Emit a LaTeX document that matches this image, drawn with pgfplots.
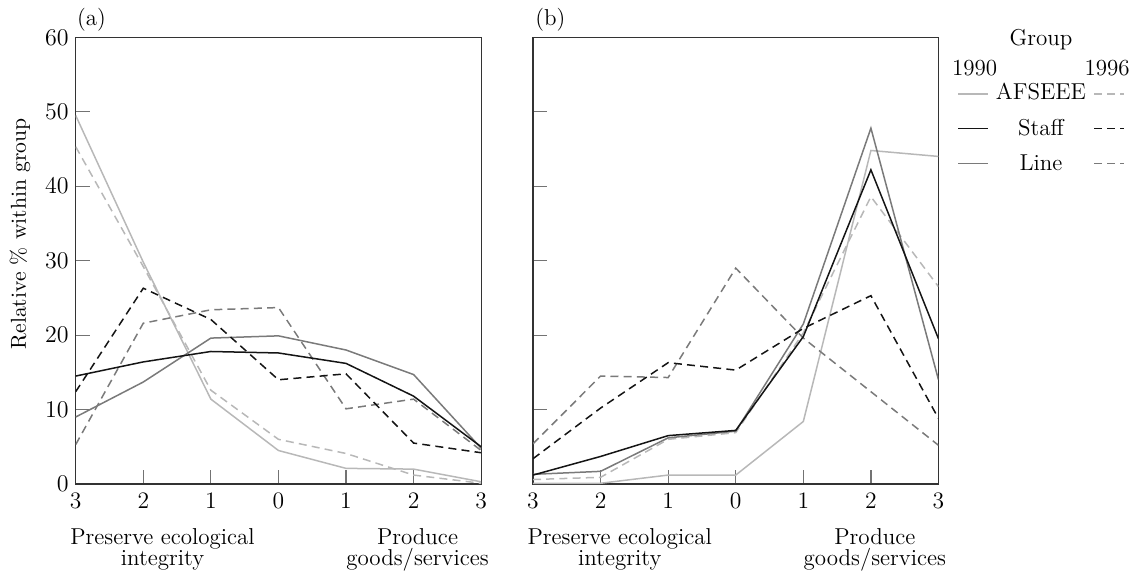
\documentclass[border=0pt]{standalone}
\usepackage{pgfplots}
\pgfplotsset{compat=1.18}
\definecolor{cA}{gray}{0.72}
\definecolor{cL}{gray}{0.48}
\definecolor{cS}{gray}{0.08}
\tikzset{
  sA/.style={cA, line width=0.75pt},
  sS/.style={cS, line width=0.75pt},
  sL/.style={cL, line width=0.75pt},
  dsh/.style={dash pattern=on 4pt off 2.6pt},
}
\pgfplotsset{
  panel/.style={scale only axis, width=202.75pt, height=223.35pt,
    xmin=0, xmax=6, ymin=0, ymax=60,
    xtick={0,...,6}, xticklabels={3,2,1,0,1,2,3},
    ytick={0,10,...,60},
    tick align=inside, xtick pos=lower, ytick pos=left,
    major tick length=7pt,
    tick style={black!55, line width=0.6pt},
    axis line style={black!80, line width=0.6pt},
    tick label style={font=\fontsize{11.8}{13}\selectfont},
    xticklabel style={yshift=-1pt},
    anchor=south west},
}
\begin{document}
\begin{tikzpicture}[font=\fontsize{11.5}{13}\selectfont]
\useasboundingbox (0,0) rectangle (573.5pt,-287pt);
% panel (a)
\begin{axis}[panel, at={(37.85pt,-242pt)}]
\addplot[sA] coordinates {(0,49.5) (1,29.8) (2,11.4) (3,4.5) (4,2.1) (5,2.0) (6,0.3)};
\addplot[sA,dsh] coordinates {(0,45.3) (1,29.2) (2,12.6) (3,6.0) (4,4.1) (5,1.2) (6,0.1)};
\addplot[sL] coordinates {(0,9.0) (1,13.7) (2,19.6) (3,19.9) (4,18.0) (5,14.7) (6,4.8)};
\addplot[sL,dsh] coordinates {(0,5.3) (1,21.6) (2,23.4) (3,23.7) (4,10.1) (5,11.4) (6,4.5)};
\addplot[sS] coordinates {(0,14.5) (1,16.4) (2,17.8) (3,17.6) (4,16.2) (5,11.8) (6,5.0)};
\addplot[sS,dsh] coordinates {(0,12.4) (1,26.3) (2,22.1) (3,14.0) (4,14.8) (5,5.5) (6,4.2)};
\end{axis}
% panel (b)
\begin{axis}[panel, at={(266.5pt,-242pt)}, yticklabels={}]
\addplot[sA] coordinates {(0,0.1) (1,0.1) (2,1.2) (3,1.2) (4,8.4) (5,44.8) (6,44.0)};
\addplot[sA,dsh] coordinates {(0,0.6) (1,0.9) (2,6.0) (3,6.9) (4,20.3) (5,38.6) (6,26.5)};
\addplot[sL] coordinates {(0,1.3) (1,1.7) (2,6.2) (3,7.1) (4,21.5) (5,47.8) (6,14.0)};
\addplot[sL,dsh] coordinates {(0,5.4) (1,14.5) (2,14.3) (3,29.0) (4,19.6) (5,12.4) (6,5.2)};
\addplot[sS] coordinates {(0,1.2) (1,3.7) (2,6.5) (3,7.2) (4,19.8) (5,42.2) (6,19.5)};
\addplot[sS,dsh] coordinates {(0,3.4) (1,10.2) (2,16.3) (3,15.3) (4,20.9) (5,25.3) (6,8.8)};
\end{axis}
% panel letters
\node[anchor=base west, inner sep=0] at (38.3pt,-12.5pt) {(a)};
\node[anchor=base west, inner sep=0] at (267.5pt,-12.5pt) {(b)};
% y label
\node[rotate=90, inner sep=0, font=\fontsize{10.8}{12}\selectfont] at (10pt,-117pt) {Relative \% within group};
% x descriptions
\node[anchor=base, inner sep=0] at (81.25pt,-272.2pt) {Preserve ecological};
\node[anchor=base, inner sep=0] at (81.25pt,-282.5pt) {integrity};
\node[anchor=base, inner sep=0] at (208.75pt,-272.2pt) {Produce};
\node[anchor=base, inner sep=0] at (208.75pt,-282.5pt) {goods/services};
\node[anchor=base, inner sep=0] at (309.9pt,-272.2pt) {Preserve ecological};
\node[anchor=base, inner sep=0] at (309.9pt,-282.5pt) {integrity};
\node[anchor=base, inner sep=0] at (437.4pt,-272.2pt) {Produce};
\node[anchor=base, inner sep=0] at (437.4pt,-282.5pt) {goods/services};
% legend
\node[anchor=base, inner sep=0] at (520.5pt,-22.5pt) {Group};
\node[anchor=base west, inner sep=0] at (475.8pt,-37.5pt) {1990};
\node[anchor=base east, inner sep=0] at (565pt,-37.5pt) {1996};
\node[anchor=base, inner sep=0] at (520.5pt,-49.5pt) {AFSEEE};
\node[anchor=base, inner sep=0] at (520.5pt,-67.5pt) {Staff};
\node[anchor=base, inner sep=0] at (520.5pt,-85pt) {Line};
\draw[sA] (479pt,-47pt) -- (494pt,-47pt);
\draw[sA,dsh] (547pt,-47pt) -- (562pt,-47pt);
\draw[sS] (479pt,-64.2pt) -- (494pt,-64.2pt);
\draw[sS,dsh] (547pt,-64.2pt) -- (562pt,-64.2pt);
\draw[sL] (479pt,-81.7pt) -- (494pt,-81.7pt);
\draw[sL,dsh] (547pt,-81.7pt) -- (562pt,-81.7pt);
\end{tikzpicture}
\end{document}
